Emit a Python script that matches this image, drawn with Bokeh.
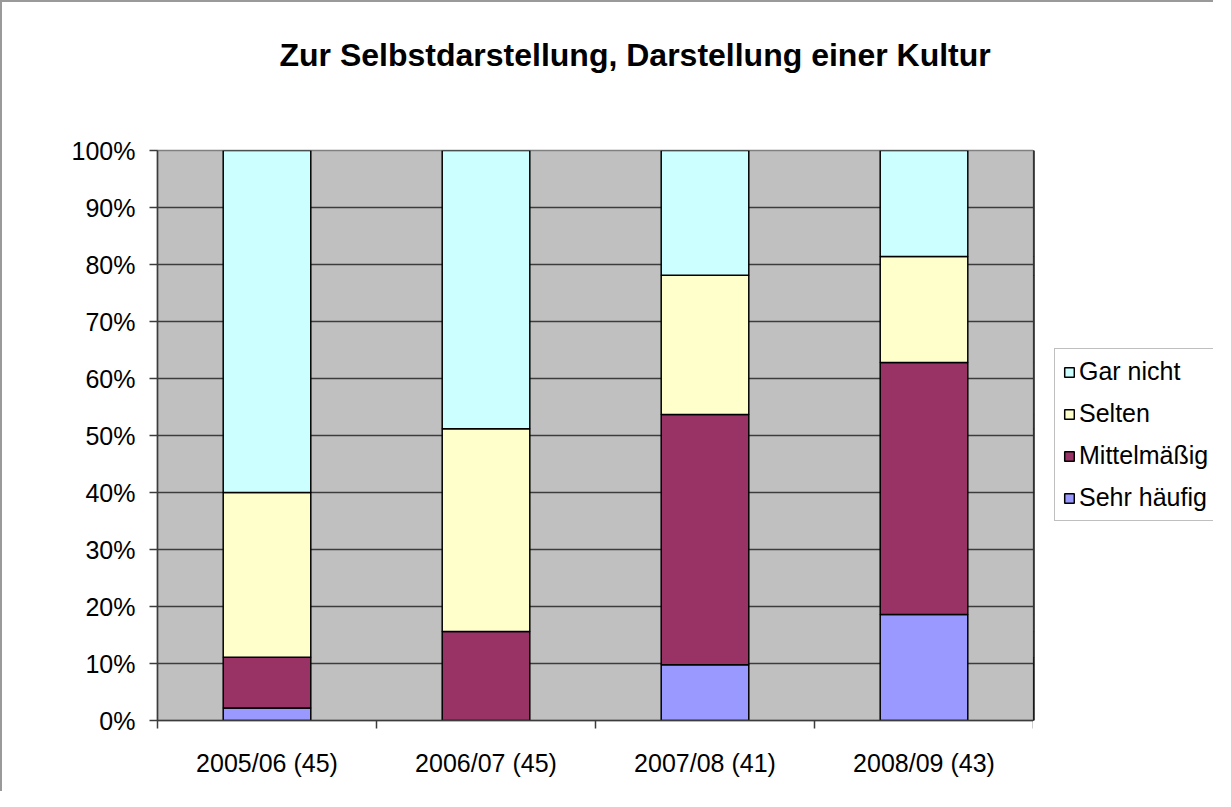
from bokeh.plotting import figure
from bokeh.layouts import row
from bokeh.models import (ColumnDataSource, Range1d, FixedTicker, Legend, LegendItem, Title)
from bokeh.embed import file_html
from bokeh.resources import INLINE

# ---- data (percent) ----
categories = ["2005/06 (45)", "2006/07 (45)", "2007/08 (41)", "2008/09 (43)"]
series = ["Sehr häufig", "Mittelmäßig", "Selten", "Gar nicht"]
sehr_haeufig = [2.2, 0.0, 9.8, 18.6]
mittelmaessig = [8.9, 15.6, 43.9, 44.2]
selten = [28.9, 35.6, 24.4, 18.6]
gar_nicht = [60.0, 48.8, 21.9, 18.6]
y_ticks = [0, 10, 20, 30, 40, 50, 60, 70, 80, 90, 100]
y_tick_labels = ["0%", "10%", "20%", "30%", "40%", "50%", "60%", "70%", "80%", "90%", "100%"]
colors = ["#9999FF", "#993366", "#FFFFCC", "#CCFFFF"]

FONT = "Liberation Sans"
BORDER = "2px solid #9a9a9a"

x_pos = [i + 0.5 for i in range(len(categories))]
source = ColumnDataSource(dict(
    x=x_pos,
    s0=sehr_haeufig, s1=mittelmaessig, s2=selten, s3=gar_nicht,
))
stack_cols = ["s0", "s1", "s2", "s3"]

p = figure(width=1033, height=791, output_backend="svg", toolbar_location=None,
           x_range=Range1d(0, len(categories)), y_range=Range1d(0, 100),
           min_border_left=155, min_border_top=148, min_border_bottom=73,
           min_border_right=2)

p.background_fill_color = "#C0C0C0"
p.border_fill_color = "white"
p.outline_line_color = "#808080"
p.outline_line_width = 1.5
p.styles = {"border-left": BORDER, "border-top": BORDER}

renderers = p.vbar_stack(stack_cols, x="x", width=0.4, source=source,
                         color=colors, line_color="black", line_width=1.5)

# spacer between frame and title (nearest to the frame)
p.add_layout(Title(text=" ", text_font_size="10px", standoff=60), "above")

# title
p.title.text = "Zur Selbstdarstellung, Darstellung einer Kultur"
p.title.text_font = FONT
p.title.text_font_size = "32px"
p.title.text_font_style = "bold"
p.title.text_color = "black"
p.title.align = "left"
p.title.offset = 122
p.title.standoff = 10

# grid
p.xgrid.grid_line_color = None
p.ygrid.ticker = FixedTicker(ticks=y_ticks)
p.ygrid.grid_line_color = "#3c3c3c"
p.ygrid.grid_line_width = 1.5

# y axis
ya = p.yaxis[0]
ya.ticker = FixedTicker(ticks=y_ticks)
ya.major_label_overrides = {t: l for t, l in zip(y_ticks, y_tick_labels)}
ya.major_label_text_font = FONT
ya.major_label_text_font_size = "25px"
ya.major_label_text_color = "black"
ya.major_label_standoff = 14
ya.major_tick_out = 8
ya.major_tick_in = 0
ya.minor_tick_line_color = None
ya.axis_line_color = "#3c3c3c"
ya.axis_line_width = 1.5
ya.major_tick_line_color = "#3c3c3c"
ya.major_tick_line_width = 1.5

# x axis
xa = p.xaxis[0]
xa.ticker = FixedTicker(ticks=x_pos, minor_ticks=list(range(len(categories) + 1)))
xa.major_label_overrides = {x: c for x, c in zip(x_pos, categories)}
xa.major_label_text_font = FONT
xa.major_label_text_font_size = "25px"
xa.major_label_text_color = "black"
xa.major_label_standoff = 20
xa.major_tick_line_color = None
xa.major_tick_out = 0
xa.major_tick_in = 0
xa.minor_tick_out = 8
xa.minor_tick_in = 0
xa.minor_tick_line_color = "#3c3c3c"
xa.minor_tick_line_width = 1.5
xa.axis_line_color = "#3c3c3c"
xa.axis_line_width = 1.5

# ---- legend panel (separate small figure right of the chart) ----
# its ranges lie away from the data, so its bars only serve as legend swatches
q = figure(width=180, height=791, output_backend="svg", toolbar_location=None,
           x_range=Range1d(10, 11), y_range=Range1d(0, 100),
           x_axis_type=None, y_axis_type=None,
           min_border_left=0, min_border_right=0, min_border_top=148, min_border_bottom=73)
q.outline_line_color = None
q.xgrid.grid_line_color = None
q.ygrid.grid_line_color = None
q.background_fill_color = "white"
q.border_fill_color = "white"
q.styles = {"border-top": BORDER}

proxies = q.vbar_stack(stack_cols, x="x", width=0.4, source=source,
                       color=colors, line_color="black", line_width=1.5)

items = [LegendItem(label=series[i], renderers=[proxies[i]]) for i in reversed(range(len(series)))]
legend = Legend(items=items, location=(21, 199), orientation="vertical")
legend.label_text_font = FONT
legend.label_text_font_size = "25px"
legend.label_text_color = "black"
legend.glyph_width = 12
legend.glyph_height = 12
legend.label_standoff = 4
legend.label_height = 25
legend.spacing = 13
legend.padding = 8
legend.margin = 0
legend.border_line_color = "#808080"
legend.border_line_width = 1.5
legend.background_fill_color = "white"
q.add_layout(legend)

layout = row(p, q, spacing=0)
open("out.html", "w").write(file_html(layout, INLINE))
